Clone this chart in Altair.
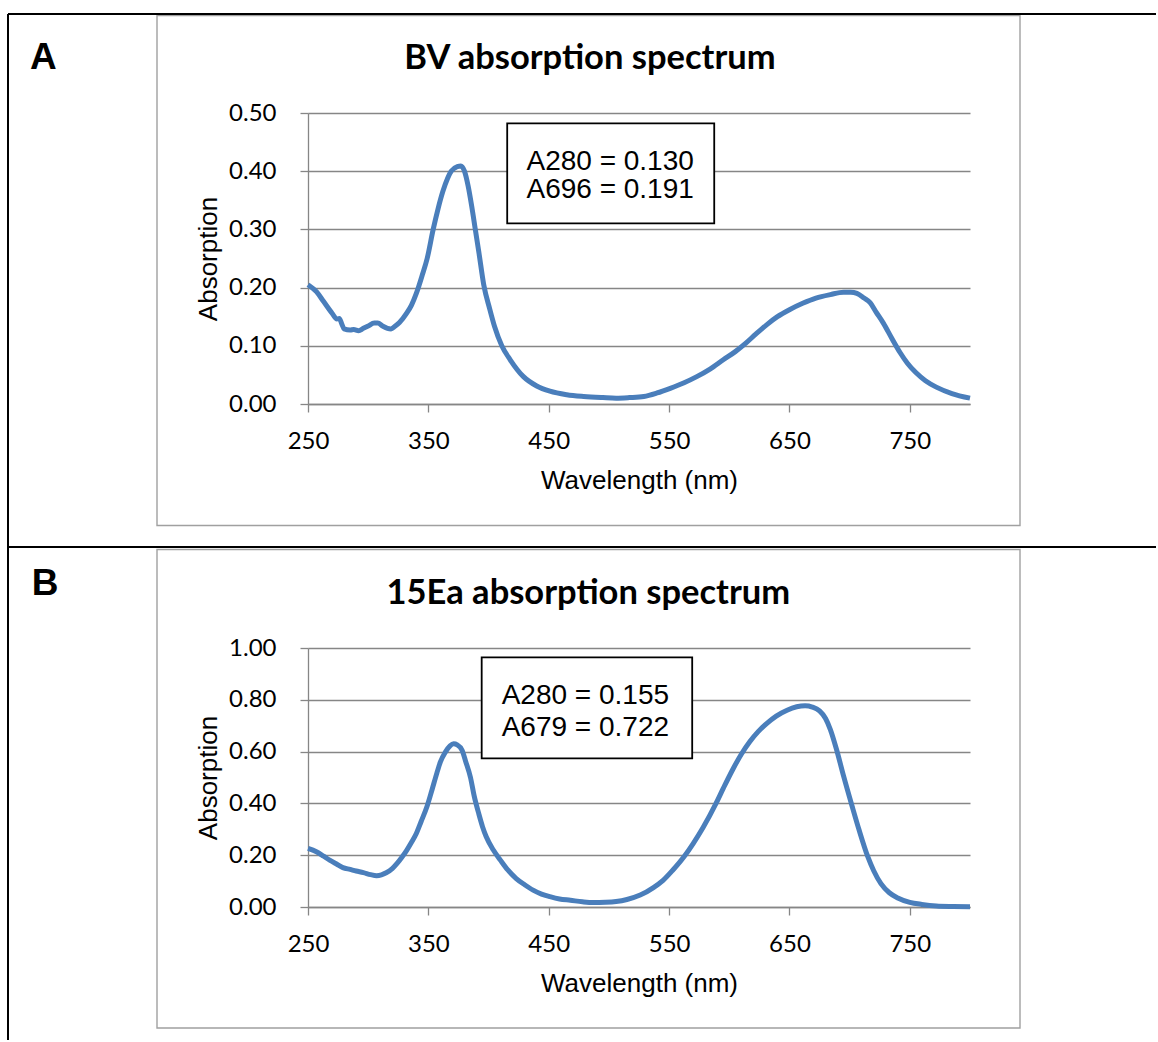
import altair as alt
import pandas as pd

# ---------------- data ----------------
wavelength_bv = [250, 257, 263, 270, 274, 276, 278, 280, 285, 288, 292, 296, 300, 305, 308,
                 312, 316, 319, 322, 326, 332, 336, 340, 345, 349, 354, 358, 362, 366, 369,
                 374, 377, 380, 383, 386, 389, 392, 396, 401, 405, 411, 418, 429, 440, 451,
                 465, 479, 495, 506, 517, 529, 540, 551, 562, 573, 584, 595, 605, 614, 622,
                 631, 640, 650, 661, 672, 684, 695, 701, 706, 712, 717, 722, 728, 735, 742,
                 748, 755, 763, 772, 785, 800]
absorb_bv = [0.205, 0.193, 0.176, 0.156, 0.146, 0.147, 0.138, 0.129, 0.127, 0.128, 0.126, 0.130,
             0.134, 0.139, 0.139, 0.134, 0.130, 0.129, 0.133, 0.140, 0.156, 0.170, 0.190, 0.222,
             0.250, 0.300, 0.335, 0.365, 0.388, 0.400, 0.408, 0.409, 0.400, 0.375, 0.340, 0.300,
             0.260, 0.205, 0.163, 0.133, 0.100, 0.076, 0.047, 0.031, 0.022, 0.016, 0.013, 0.011,
             0.010, 0.011, 0.013, 0.019, 0.027, 0.036, 0.047, 0.060, 0.076, 0.090, 0.105, 0.120,
             0.136, 0.150, 0.162, 0.173, 0.182, 0.188, 0.192, 0.192, 0.190, 0.182, 0.174, 0.158,
             0.139, 0.113, 0.088, 0.070, 0.054, 0.040, 0.029, 0.018, 0.010]

wavelength_15ea = [250, 257, 263, 268, 274, 279, 285, 290, 296, 302, 307, 311, 315, 320, 324,
                   328, 332, 336, 340, 344, 349, 353, 357, 360, 364, 368, 371, 374, 378, 381,
                   385, 388, 392, 395, 398, 404, 410, 416, 423, 430, 437, 444, 451, 459, 468,
                   478, 487, 497, 506, 515, 526, 537, 545, 553, 563, 570, 578, 589, 595, 603,
                   610, 617, 624, 631, 639, 648, 656, 663, 669, 675, 680, 684, 689, 695, 702,
                   708, 715, 720, 726, 733, 740, 750, 760, 772, 786, 800]
absorb_15ea = [0.226, 0.213, 0.196, 0.181, 0.165, 0.152, 0.145, 0.139, 0.133, 0.125, 0.121,
               0.124, 0.132, 0.148, 0.168, 0.192, 0.219, 0.250, 0.284, 0.330, 0.390, 0.452,
               0.516, 0.560, 0.597, 0.622, 0.630, 0.626, 0.605, 0.562, 0.500, 0.430, 0.358,
               0.310, 0.272, 0.220, 0.180, 0.143, 0.110, 0.086, 0.065, 0.050, 0.040, 0.031,
               0.026, 0.020, 0.017, 0.018, 0.021, 0.029, 0.046, 0.075, 0.103, 0.142, 0.198,
               0.245, 0.305, 0.400, 0.458, 0.532, 0.590, 0.638, 0.677, 0.708, 0.737, 0.760,
               0.773, 0.777, 0.772, 0.757, 0.728, 0.685, 0.610, 0.505, 0.390, 0.295, 0.195,
               0.140, 0.090, 0.055, 0.035, 0.018, 0.010, 0.004, 0.002, 0.001]

x_tick_values = [250, 350, 450, 550, 650, 750]
y_ticks_bv = [0.0, 0.1, 0.2, 0.3, 0.4, 0.5]
y_ticks_15ea = [0.0, 0.2, 0.4, 0.6, 0.8, 1.0]

chart_titles = ["BV absorption spectrum", "15Ea absorption spectrum"]
panel_labels = ["A", "B"]
notes_bv = ["A280 = 0.130", "A696 = 0.191"]
notes_15ea = ["A280 = 0.155", "A679 = 0.722"]

# annotation boxes, in data units (wavelength, absorption)
box_bv = {"wl": 415.5, "wl2": 587.5, "ab": 0.3105, "ab2": 0.4823}
note_bv_wl = 431.5
note_bv_ab = [0.4021, 0.3534]
box_15ea = {"wl": 394.3, "wl2": 569.2, "ab": 0.574, "ab2": 0.964}
note_15ea_wl = 410.9
note_15ea_ab = [0.784, 0.660]

# ---------------- styling ----------------
LINE_COLOR = "#4A7EBB"
GRID = "#868686"
FRAME = "#A0A0A0"
W = 662


def one(d=None):
    return pd.DataFrame([d or {"k": 0}])


def seg(x1, y1, x2, y2, color="black", width=2.0):
    return alt.Chart(one()).mark_rule(color=color, strokeWidth=width).encode(
        x=alt.value(x1), y=alt.value(y1), x2=alt.value(x2), y2=alt.value(y2))


def frame_box(x1, y1, x2, y2):
    return alt.Chart(one()).mark_rect(filled=False, stroke=FRAME, strokeWidth=1.4).encode(
        x=alt.value(x1), y=alt.value(y1), x2=alt.value(x2), y2=alt.value(y2))


def panel(wl, ab, ymax, yticks, H, title, title_x, label, label_x, label_y,
          notes, box, note_wl, note_ab, decorations):
    df = pd.DataFrame({"wl": wl, "ab": ab})
    xs = alt.Scale(domain=[250, 800], nice=False, zero=False)
    ys = alt.Scale(domain=[0, ymax], nice=False)
    x = alt.X("wl:Q", scale=xs, axis=alt.Axis(
        values=x_tick_values, format="d", title="Wavelength (nm)", grid=False,
        labelFlush=False, labelOverlap=False,
        labelBaseline="alphabetic", labelPadding=36, titleY=84,
        titleBaseline="alphabetic"))
    y = alt.Y("ab:Q", scale=ys, axis=alt.Axis(
        values=yticks, format=".2f", title="Absorption", labelPadding=24,
        labelFlush=False, labelOverlap=False,
        titleX=-100, titleY=H / 2, titleBaseline="middle", titleAngle=270))

    line = alt.Chart(df).mark_line(color=LINE_COLOR, strokeWidth=5,
                                   interpolate="monotone").encode(x=x, y=y)

    boxm = alt.Chart(pd.DataFrame([box])).mark_rect(
        fill="white", stroke="black", strokeWidth=1.8).encode(
        x=alt.X("wl:Q", scale=xs), x2="wl2", y=alt.Y("ab:Q", scale=ys), y2="ab2")

    notedf = pd.DataFrame({"t": notes, "wl": [note_wl] * len(notes), "ab": note_ab})
    notem = alt.Chart(notedf).mark_text(
        align="left", baseline="alphabetic", font="Liberation Sans", fontSize=28,
        color="black").encode(x=alt.X("wl:Q", scale=xs), y=alt.Y("ab:Q", scale=ys), text="t:N")

    titlem = alt.Chart(pd.DataFrame({"t": [title]})).mark_text(
        align="center", baseline="alphabetic", font="Lato", fontWeight="bold",
        fontSize=34.5, color="black").encode(
        x=alt.value(title_x), y=alt.value(-43.7), text="t:N")

    labelm = alt.Chart(pd.DataFrame({"t": [label]})).mark_text(
        align="left", baseline="alphabetic", font="Liberation Sans", fontWeight="bold",
        fontSize=37, color="black").encode(
        x=alt.value(label_x), y=alt.value(label_y), text="t:N")

    return alt.layer(*decorations, line, boxm, notem, titlem, labelm).properties(
        width=W, height=H)


# panel A: plot origin at page (308, 113)
deco_a = [
    frame_box(-151, -97.5, 712, 412.5),
    seg(-300, -99, 848, -99),
    seg(-300, -99, -300, 434),
    seg(-300, 434, 848, 434),
]
# panel B: plot origin at page (308, 648)
deco_b = [
    frame_box(-151, -98.5, 712, 380),
    seg(-300, -101, -300, 392),
]

pa = panel(wavelength_bv, absorb_bv, 0.5, y_ticks_bv, 291, chart_titles[0], 282,
           panel_labels[0], -278, -43.7, notes_bv, box_bv, note_bv_wl, note_bv_ab, deco_a)
pb = panel(wavelength_15ea, absorb_15ea, 1.0, y_ticks_15ea, 259, chart_titles[1], 280.3,
           panel_labels[1], -276.3, -53, notes_15ea, box_15ea, note_15ea_wl, note_15ea_ab, deco_b)

chart = alt.vconcat(pa, pb, spacing=244, bounds="flush").properties(
    padding={"left": 7, "top": 13, "right": 0, "bottom": 0},
    background="white",
).configure_view(stroke=None).configure_axis(
    gridColor=GRID, gridWidth=1.3, domainColor=GRID, domainWidth=1.3,
    tickColor=GRID, tickWidth=1.3, tickSize=8,
    labelFont="Lato", labelFontSize=24, labelColor="black",
    titleFont="Liberation Sans", titleFontSize=26, titleFontWeight="normal",
    titleColor="black",
)

chart.save("out.html", embed_options={"renderer": "svg", "actions": False})
